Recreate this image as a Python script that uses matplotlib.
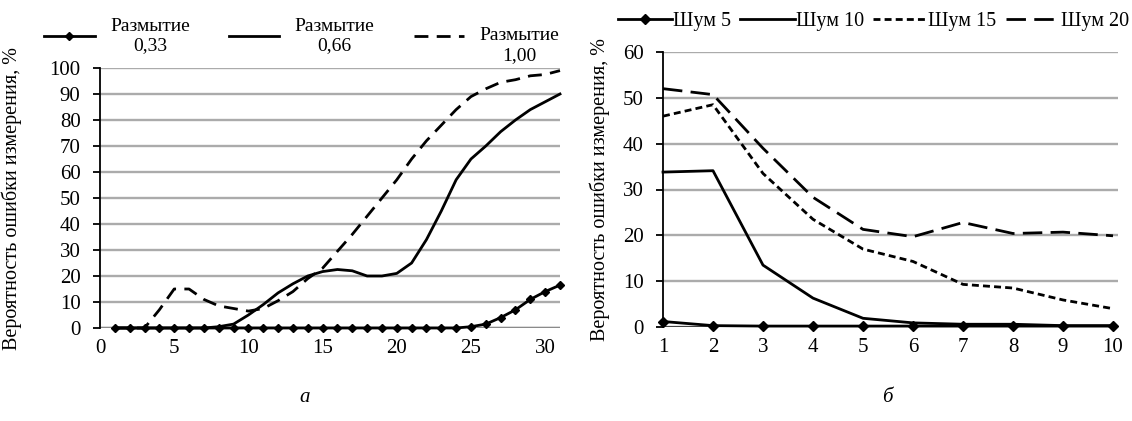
import matplotlib
matplotlib.use("Agg")
import matplotlib.pyplot as plt

plt.rcParams['font.family'] = ['Liberation Serif', 'DejaVu Serif']

# ---- data: panel a ----
x_a = list(range(1, 32))
blur_033 = [0]*24 + [0.5, 1.5, 4, 7, 11, 14, 16.5]
blur_066 = [0, 0, 0, 0, 0, 0, 0, 0.5, 1.5, 5, 9, 13.5, 17, 20, 21.7, 22.5, 22, 20,
            20, 21, 25, 34, 45, 57, 65, 70, 75.5, 80, 84, 87, 90]
blur_100 = [0, 0, 0, 7, 15, 15, 11, 8.5, 7.5, 6.5, 7.5, 10.5, 14, 19, 23, 29.5, 36,
            43, 50, 57, 65, 72, 78, 84, 89, 92, 94.5, 95.5, 97, 97.5, 99]
labels_a = ['Размытие\n0,33', 'Размытие\n0,66', 'Размытие\n1,00']
xticks_a = [0, 5, 10, 15, 20, 25, 30]
yticks_a = [0, 10, 20, 30, 40, 50, 60, 70, 80, 90, 100]

# ---- data: panel b ----
x_b = list(range(1, 11))
noise5 = [1.2, 0.3, 0.2, 0.2, 0.2, 0.2, 0.2, 0.2, 0.2, 0.2]
noise10 = [33.8, 34.1, 13.5, 6.3, 1.9, 0.9, 0.6, 0.6, 0.3, 0.3]
noise15 = [46, 48.5, 33.5, 23.5, 17, 14.3, 9.3, 8.5, 5.9, 4]
noise20 = [52, 50.7, 39, 28.3, 21.3, 19.7, 22.8, 20.4, 20.7, 19.9]
labels_b = ['Шум 5', 'Шум 10', 'Шум 15', 'Шум 20']
xticks_b = list(range(1, 11))
yticks_b = [0, 10, 20, 30, 40, 50, 60]

ylabel = 'Вероятность ошибки измерения, %'

W, H = 1132, 421
fig = plt.figure(figsize=(W/100, H/100), dpi=100)

def fx(px): return px / W
def fy(py): return 1 - py / H

axA = fig.add_axes([fx(100), fy(328), fx(560) - fx(100), fy(68) - fy(328)])
axB = fig.add_axes([fx(663), fy(327), fx(1118) - fx(663), fy(52) - fy(327)])

grid_c = '#ababab'
FS = 15

def style(ax, yticks, xticks, xlim, ylim, label_x):
    ax.set_xlim(*xlim)
    ax.set_ylim(*ylim)
    ax.set_yticks(yticks)
    ax.set_xticks(xticks)
    for y in yticks:
        ax.axhline(y, color=grid_c, lw=1.7, zorder=0)
    for s in ['top', 'right', 'bottom']:
        ax.spines[s].set_visible(False)
    ax.spines['left'].set_linewidth(1.3)
    ax.tick_params(axis='y', length=5, width=1.3, direction='out', labelsize=FS, pad=9)
    ax.tick_params(axis='x', length=0, labelsize=FS, pad=8)
    ax.set_ylabel(ylabel, fontsize=14.5)
    ax.yaxis.set_label_coords(label_x, 0.5)

style(axA, yticks_a, xticks_a, (0, 31), (0, 100), (22 - 100) / 460)
style(axB, yticks_b, xticks_b, (1, 10.1), (0, 60), (610 - 663) / 455)
axA.axhline(0, color='#8a8a8a', lw=1.7, zorder=1)
axB.axhline(0, color='#404040', lw=1.5, zorder=1)

lw = 2.0
axA.plot(x_a, blur_033, color='black', lw=lw, marker='D', ms=4.5, label=labels_a[0], clip_on=False, zorder=3)
axA.plot(x_a, blur_066, color='black', lw=lw, label=labels_a[1], clip_on=False, zorder=3)
axA.plot(x_a, blur_100, color='black', lw=lw, dashes=(5, 3), label='\n' + labels_a[2], clip_on=False, zorder=3)

axB.plot(x_b, noise5, color='black', lw=lw, marker='D', ms=5.5, label=labels_b[0], clip_on=False, zorder=3)
axB.plot(x_b, noise10, color='black', lw=lw, label=labels_b[1], clip_on=False, zorder=3)
axB.plot(x_b, noise15, color='black', lw=lw, dashes=(2.5, 1.5), label=labels_b[2], clip_on=False, zorder=3)
axB.plot(x_b, noise20, color='black', lw=lw, dashes=(7, 3), label=labels_b[3], clip_on=False, zorder=3)

legA = axA.legend(loc='lower left', bbox_to_anchor=(fx(44), fy(64)), bbox_transform=fig.transFigure,
                  ncol=3, frameon=False, fontsize=14, handlelength=2.6, handletextpad=0.8,
                  columnspacing=2.0, borderaxespad=0, borderpad=0)
for t in legA.get_texts():
    t.set_multialignment('center')

legB = axB.legend(loc='lower left', bbox_to_anchor=(fx(618), fy(31)), bbox_transform=fig.transFigure,
                  ncol=4, frameon=False, fontsize=14.5, handlelength=2.7, handletextpad=0.05,
                  columnspacing=0.45, borderaxespad=0, borderpad=0)

fig.text(fx(305), fy(398), 'а', fontsize=15, style='italic', ha='center', va='center')
fig.text(fx(887), fy(398), 'б', fontsize=15, style='italic', ha='center', va='center')

fig.savefig('out.png', dpi=100)
